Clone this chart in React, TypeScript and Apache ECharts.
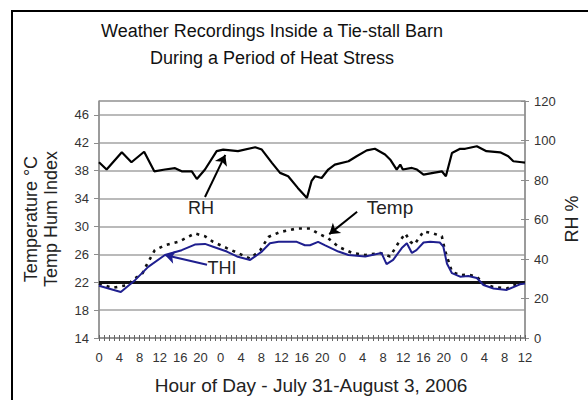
import React, { useEffect, useRef } from "react";
import * as echarts from "echarts";

// Hours since midnight July 31 and readings
const rhHours = [0, 1.5, 4.5, 6.4, 8.9, 10.9, 13, 15, 16.3, 18.3, 19.3, 20.9, 23.2, 24.5, 27.4, 30.8, 32.1, 34.1, 35.7, 37.3, 39.2, 41, 41.9, 42.6, 43.9, 45.2, 46.5, 49.2, 50.8, 52.8, 54.4, 56.4, 57.4, 58.7, 59.4, 59.9, 61.7, 62.7, 64, 65.9, 67.6, 68.4, 69.6, 71.2, 72.2, 74.5, 76.4, 79.1, 80.7, 81.7, 83.4, 84];
const rhValues = [89, 85.3, 94, 89, 94.3, 84.4, 85.3, 86, 84.4, 84.4, 80.5, 85.3, 94.6, 95.4, 94.6, 96.6, 95.4, 88.7, 83.6, 81.9, 76, 70.9, 79.4, 81.9, 81, 85.3, 87.8, 89.5, 92, 95, 95.8, 92.9, 90.4, 85.3, 87.8, 85.3, 86.1, 85.3, 82.7, 83.6, 84.4, 81.9, 93.7, 95.8, 95.8, 97.1, 94.6, 94, 92, 89.5, 89, 88.8];

const tempHours = [0, 2.6, 5.7, 6.6, 8.6, 9.4, 11, 13, 15.7, 18.9, 20.9, 22.5, 25.2, 29.8, 31.8, 33.4, 35.7, 39, 41.6, 43.2, 45.2, 47.2, 49.9, 52.5, 55.4, 57.4, 59, 60.4, 61.4, 62.2, 64, 65.9, 67.6, 68.2, 69.6, 71.2, 72.8, 74.5, 75.8, 77.8, 80.4, 83, 84];
const tempValues = [21.8, 21.2, 21.6, 22.3, 23.3, 24.5, 26.6, 27.3, 27.8, 29, 28.6, 27.8, 26.9, 25.4, 26.6, 28.5, 29.2, 29.7, 29.7, 29, 28.3, 27.1, 26.2, 25.9, 26.2, 25.7, 27.6, 29, 27.8, 27.4, 29.3, 29, 28.6, 26.6, 23.5, 23, 23.1, 22.8, 21.8, 21.3, 21.1, 21.9, 22];

const thiHours = [0, 4.3, 7.1, 9.7, 13, 16.3, 18.9, 20.9, 22.5, 25.2, 27.2, 29.8, 32.1, 33.7, 35.4, 39, 40.6, 41.6, 43.2, 44.6, 47.2, 49.2, 52.5, 55.7, 56.7, 58, 59.7, 60.7, 61.7, 62.6, 64, 65.3, 67.2, 67.9, 68.6, 69.6, 71.2, 72.8, 74.5, 75.8, 77.8, 80.4, 83, 84];
const thiValues = [21.5, 20.6, 22.3, 24.2, 25.9, 26.6, 27.4, 27.5, 27.1, 26.4, 25.7, 25.2, 26.4, 27.6, 27.8, 27.8, 27.3, 27.3, 27.8, 27.3, 26.4, 25.9, 25.7, 26.2, 24.6, 25.2, 26.9, 27.6, 26.2, 26.6, 27.7, 27.8, 27.7, 27.1, 24.7, 23.3, 22.8, 22.9, 22.6, 21.6, 21.1, 20.9, 21.7, 21.8];

const thiThreshold = 22;

// Arrow annotations in data units: [startHour, startValue, endHour, endValue]
const rhArrow = [20.9, 71.4, 24.9, 92.7];
const tempArrow = [50.9, 32.1, 45.4, 28.9];
const thiArrow = [21.3, 24.5, 13.0, 25.9];

const zip = (xs: number[], ys: number[]) => xs.map((x, i) => [x, ys[i]]);

const FONT = "'Liberation Sans', Arial, sans-serif";
const GRID_COLOR = "#a3a3a3";
const AXIS_COLOR = "#8c8c8c";

const arrowLine = (a: number[], color: string) => [
  { coord: [a[0], a[1]], symbol: "none", lineStyle: { color, width: 2, type: "solid" } },
  { coord: [a[2], a[3]], symbol: "arrow", symbolSize: 10 },
];

export default function App() {
  const ref = useRef<HTMLDivElement>(null);
  useEffect(() => {
    if (!ref.current) return;
    const chart = echarts.init(ref.current, undefined, { renderer: "svg" });
    const gridRect = { left: 99, right: 63, top: 101, bottom: 62 };
    chart.setOption({
      animation: false,
      backgroundColor: "#ffffff",
      textStyle: { fontFamily: FONT },
      grid: [
        { ...gridRect, show: true, borderColor: AXIS_COLOR, borderWidth: 1, containLabel: false },
        { ...gridRect, show: false, containLabel: false },
      ],
      xAxis: [
        {
          type: "value",
          gridIndex: 0,
          min: 0,
          max: 84,
          interval: 4,
          axisLine: { show: true, onZero: false, lineStyle: { color: AXIS_COLOR, width: 1.5 } },
          axisTick: { show: true, length: 3, lineStyle: { color: "#666", width: 1 } },
          minorTick: { show: true, splitNumber: 4, length: 3, lineStyle: { color: "#666", width: 1 } },
          splitLine: { show: false },
          axisLabel: {
            fontFamily: FONT,
            fontSize: 13,
            color: "#333",
            margin: 13,
            formatter: (v: number) => String(v % 24),
          },
        },
        {
          type: "value",
          gridIndex: 1,
          min: 0,
          max: 84,
          interval: 4,
          position: "bottom",
          axisLine: { show: false, onZero: false },
          axisTick: { show: true, inside: true, length: 3, lineStyle: { color: "#666", width: 1 } },
          minorTick: { show: true, splitNumber: 4, length: 3, lineStyle: { color: "#666", width: 1 } },
          splitLine: { show: false },
          axisLabel: { show: false },
        },
      ],
      yAxis: [
        {
          type: "value",
          gridIndex: 0,
          position: "left",
          min: 14,
          max: 48,
          interval: 4,
          axisLine: { show: true, onZero: false, lineStyle: { color: AXIS_COLOR, width: 1.5 } },
          axisTick: { show: true, length: 5, lineStyle: { color: AXIS_COLOR } },
          splitLine: { show: true, lineStyle: { color: GRID_COLOR, width: 1.5 } },
          axisLabel: { fontFamily: FONT, fontSize: 13, color: "#333", margin: 10, showMaxLabel: false },
        },
        {
          type: "value",
          gridIndex: 0,
          position: "right",
          min: 0,
          max: 120,
          interval: 20,
          axisLine: { show: true, onZero: false, lineStyle: { color: AXIS_COLOR, width: 1.5 } },
          axisTick: { show: true, length: 4, lineStyle: { color: AXIS_COLOR } },
          splitLine: { show: false },
          axisLabel: { fontFamily: FONT, fontSize: 13, color: "#333", margin: 9 },
        },
        {
          type: "value",
          gridIndex: 1,
          position: "right",
          min: 0,
          max: 120,
          interval: 20,
          axisLine: { show: false, onZero: false },
          axisTick: { show: true, inside: true, length: 4, lineStyle: { color: AXIS_COLOR } },
          splitLine: { show: false },
          axisLabel: { show: false },
        },
      ],
      series: [
        {
          name: "RH",
          type: "line",
          xAxisIndex: 0,
          yAxisIndex: 1,
          data: zip(rhHours, rhValues),
          showSymbol: false,
          lineStyle: { color: "#000", width: 2.2 },
          z: 3,
          markLine: {
            silent: true,
            symbol: ["none", "arrow"],
            label: { show: false },
            lineStyle: { color: "#000", width: 2, type: "solid" },
            data: [arrowLine(rhArrow, "#000")],
          },
        },
        {
          name: "Temp",
          type: "line",
          xAxisIndex: 0,
          yAxisIndex: 0,
          data: zip(tempHours, tempValues),
          showSymbol: false,
          lineStyle: { color: "#111", width: 2.6, type: [3, 5] },
          z: 4,
          markLine: {
            silent: true,
            symbol: ["none", "arrow"],
            label: { show: false },
            lineStyle: { color: "#000", width: 2, type: "solid" },
            data: [
              [
                { coord: [0, thiThreshold], symbol: "none", lineStyle: { color: "#111", width: 3, type: "solid" } },
                { coord: [84, thiThreshold], symbol: "none" },
              ],
              arrowLine(tempArrow, "#000"),
            ],
          },
        },
        {
          name: "THI",
          type: "line",
          xAxisIndex: 0,
          yAxisIndex: 0,
          data: zip(thiHours, thiValues),
          showSymbol: false,
          lineStyle: { color: "#1f1f8f", width: 2 },
          z: 5,
          markLine: {
            silent: true,
            symbol: ["none", "arrow"],
            label: { show: false },
            lineStyle: { color: "#1f1f8f", width: 2, type: "solid" },
            data: [arrowLine(thiArrow, "#1f1f8f")],
          },
        },
      ],
      graphic: [
        {
          type: "rect",
          silent: true,
          shape: { x: 12, y: 11, width: 600, height: 420 },
          style: { fill: "none", stroke: "#000", lineWidth: 2 },
          z: 100,
        },
        {
          type: "text",
          x: 272,
          y: 44,
          style: {
            text: "Weather Recordings Inside a Tie-stall Barn\nDuring a Period of Heat Stress",
            font: `18px ${FONT}`,
            fill: "#111",
            align: "center",
            verticalAlign: "middle",
            lineHeight: 27,
          },
        },
        {
          type: "text",
          x: 41,
          y: 219,
          rotation: Math.PI / 2,
          style: {
            text: "Temperature °C\nTemp Hum Index",
            font: `18px ${FONT}`,
            fill: "#222",
            align: "center",
            verticalAlign: "middle",
            lineHeight: 20,
          },
        },
        {
          type: "text",
          x: 572,
          y: 219,
          rotation: Math.PI / 2,
          style: { text: "RH %", font: `18px ${FONT}`, fill: "#222", align: "center", verticalAlign: "middle" },
        },
        {
          type: "text",
          x: 311,
          y: 385,
          style: {
            text: "Hour of Day - July 31-August 3, 2006",
            font: `19px ${FONT}`,
            fill: "#222",
            align: "center",
            verticalAlign: "middle",
          },
        },
        {
          type: "text",
          x: 201,
          y: 208,
          style: { text: "RH", font: `18px ${FONT}`, fill: "#222", align: "center", verticalAlign: "middle" },
        },
        {
          type: "text",
          x: 390,
          y: 207,
          style: { text: "Temp", font: `19px ${FONT}`, fill: "#222", align: "center", verticalAlign: "middle" },
        },
        {
          type: "text",
          x: 222,
          y: 268,
          style: { text: "THI", font: `18px ${FONT}`, fill: "#222", align: "center", verticalAlign: "middle" },
        },
      ],
    });
    return () => chart.dispose();
  }, []);
  return <div ref={ref} style={{ position: "fixed", left: 0, top: 0, width: 588, height: 400 }} />;
}
